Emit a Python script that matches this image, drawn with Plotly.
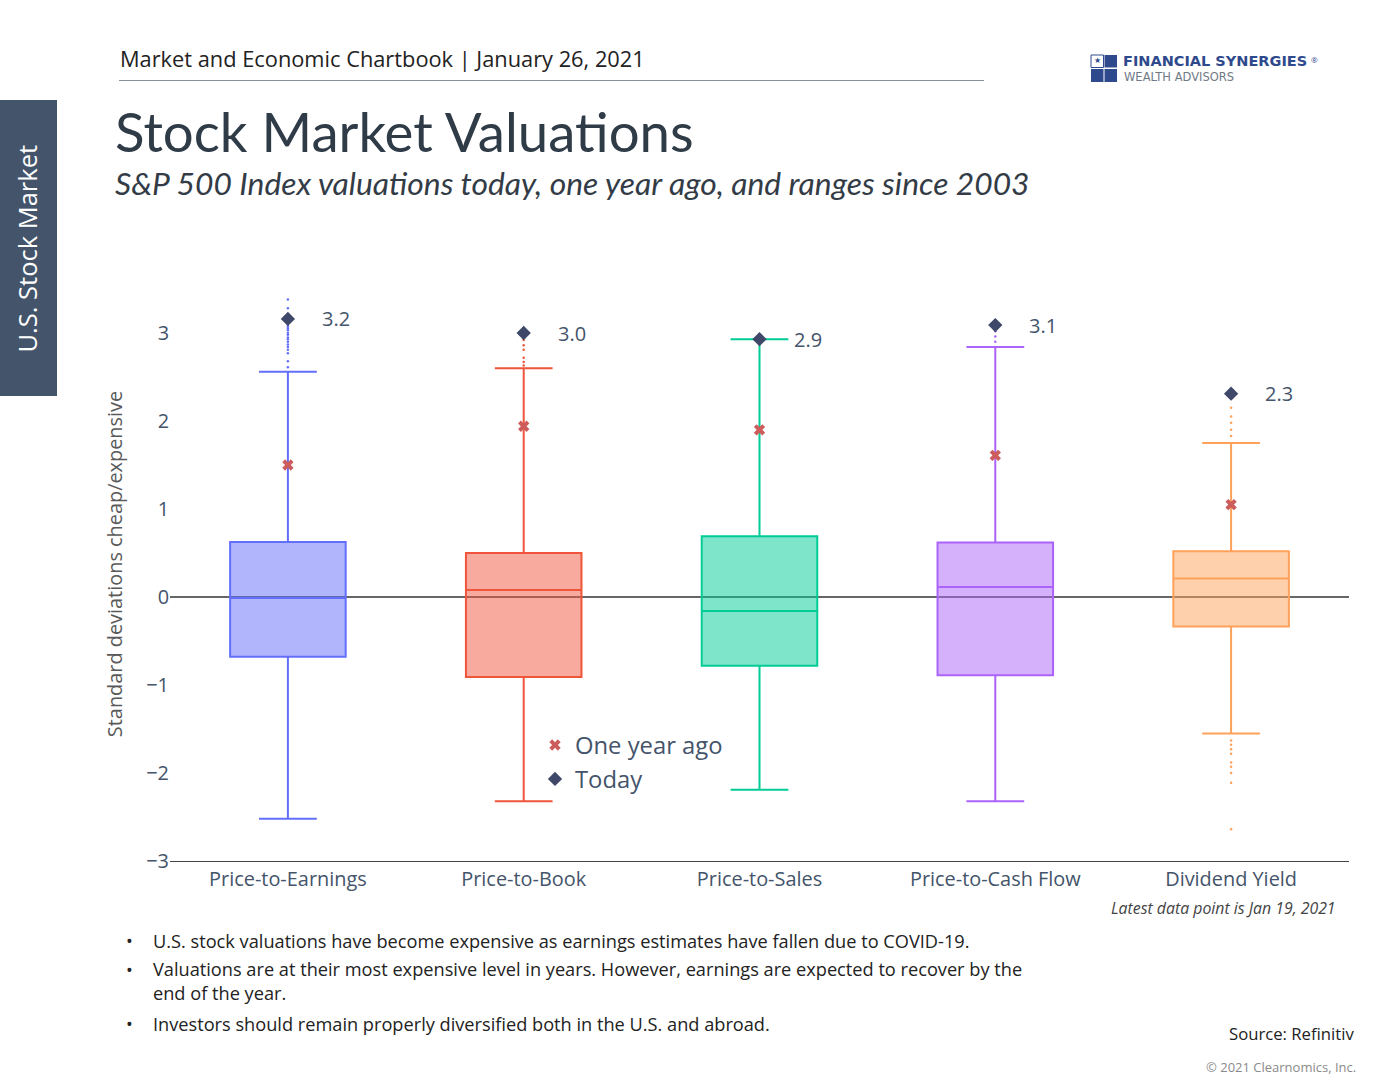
import plotly.graph_objects as go

categories = ['Price-to-Earnings', 'Price-to-Book', 'Price-to-Sales', 'Price-to-Cash Flow', 'Dividend Yield']
lower_fence = [-2.52, -2.32, -2.19, -2.32, -1.55]
q1 = [-0.68, -0.91, -0.78, -0.89, -0.335]
median = [-0.01, 0.08, -0.16, 0.115, 0.21]
q3 = [0.625, 0.50, 0.69, 0.62, 0.52]
upper_fence = [2.56, 2.60, 2.93, 2.84, 1.75]
outliers = [
    [3.38, 3.28, 3.09, 3.07, 3.05, 3.03, 3.0, 2.98, 2.95, 2.93, 2.9, 2.87, 2.84, 2.81, 2.77, 2.68, 2.61],
    [2.92, 2.86, 2.81, 2.72, 2.67, 2.63],
    [],
    [3.02, 2.96, 2.9],
    [2.25, 2.15, 2.05, 1.98, 1.9, 1.83, -1.63, -1.68, -1.73, -1.78, -1.88, -1.93, -2.0, -2.11, -2.64],
]
one_year_ago = [1.5, 1.94, 1.90, 1.61, 1.05]
today = [3.16, 3.0, 2.93, 3.09, 2.31]
box_colors = ['#636EFA', '#EF553B', '#00CC96', '#AB63FA', '#FFA15A']

bullets = [
    'U.S. stock valuations have become expensive as earnings estimates have fallen due to COVID-19.',
    'Valuations are at their most expensive level in years. However, earnings are expected to recover by the<br>end of the year.',
    'Investors should remain properly diversified both in the U.S. and abroad.',
]

W, H = 1400, 1091
L, R, T, B = 170, 1349, 267, 861


# page pixels to paper coordinates, for everything around the plot
def px(x):
    return (x - L) / (R - L)


def py(y):
    return (B - y) / (B - T)


def note(x, y, text, size, color='#333333', anchor='left', family='Open Sans', **kw):
    fig.add_annotation(x=px(x), y=py(y), xref='paper', yref='paper', text=text, showarrow=False,
                       xanchor=anchor, yanchor='middle', align='left',
                       font=dict(family=family, size=size, color=color), **kw)


def rect(x0, y0, x1, y1, fill, line=None):
    fig.add_shape(type='rect', xref='paper', yref='paper', x0=px(x0), x1=px(x1), y0=py(y0), y1=py(y1),
                  fillcolor=fill, line=dict(width=1 if line else 0, color=line or fill), layer='above')


fig = go.Figure()

for i, cat in enumerate(categories):
    fig.add_trace(go.Box(
        x=[cat], y=[outliers[i]] if outliers[i] else None,
        q1=[q1[i]], median=[median[i]], q3=[q3[i]],
        lowerfence=[lower_fence[i]], upperfence=[upper_fence[i]],
        name=cat, width=0.49, boxpoints='outliers' if outliers[i] else False, pointpos=0, jitter=0,
        line=dict(color=box_colors[i], width=2), marker=dict(color=box_colors[i], size=2.5),
        showlegend=False, hoverinfo='skip',
    ))

fig.add_trace(go.Scatter(x=categories, y=one_year_ago, mode='markers', name='One year ago',
                         marker=dict(symbol='x', size=10, color='#CD5C5C')))
fig.add_trace(go.Scatter(x=categories, y=today, mode='markers', name='Today',
                         marker=dict(symbol='diamond', size=11, color='#3F4868')))

for cat, val in zip(categories, today):
    fig.add_annotation(x=cat, y=val, text='%.1f' % val, showarrow=False, xshift=48,
                       font=dict(family='Open Sans', size=20, color='#44546A'))

fig.update_layout(
    width=W, height=H,
    margin=dict(l=L, r=W - R, t=T, b=H - B),
    paper_bgcolor='white', plot_bgcolor='white',
    font=dict(family='Open Sans', color='#2A3F5F'),
    showlegend=True,
    legend=dict(x=px(535), y=py(723), xanchor='left', yanchor='top', bgcolor='rgba(0,0,0,0)',
                font=dict(size=23.8, color='#44546A'), tracegroupgap=0),
    xaxis=dict(range=[-0.5, 4.5], type='category', showline=True, linecolor='#444444', linewidth=1,
               showgrid=False, ticks='', tickfont=dict(size=19.9, color='#44546A')),
    yaxis=dict(range=[-3, 3.75], showgrid=False, zeroline=True, zerolinecolor='#666666', zerolinewidth=1.5,
               tickvals=[-3, -2, -1, 0, 1, 2, 3], ticks='', tickfont=dict(size=19.9, color='#44546A'),
               title=dict(text='Standard deviations cheap/expensive', standoff=18,
                          font=dict(size=19.9, color='#595959'))),
)

# header
note(117.5, 58, 'Market and Economic Chartbook | January 26, 2021', 21.8, '#222222')
fig.add_shape(type='line', xref='paper', yref='paper', x0=px(119), x1=px(984), y0=py(80.5), y1=py(80.5),
              line=dict(color='#8A929C', width=1))
note(113, 131.5, 'Stock Market Valuations', 54.6, '#2F3B47', family='Lato')
note(113, 183, '<i>S&amp;P 500 Index valuations today, one year ago, and ranges since 2003</i>', 31.8, '#333C46', family='Lato')

# side tab
rect(0, 100, 57, 396, '#44546A')
note(26, 248.5, 'U.S. Stock Market', 25.5, 'white', anchor='center', textangle=-90)

# logo
rect(1091, 55, 1103.5, 67.5, 'white', '#2F4A8C')
rect(1104.5, 55, 1117, 67.5, '#2F4A8C')
rect(1091, 69, 1103.5, 82, '#2F4A8C')
rect(1104.5, 69, 1117, 82, '#2F4A8C')
note(1097, 61, '★', 8, '#2F4A8C', anchor='center', family='DejaVu Sans')
note(1121, 61.5, '<b>FINANCIAL SYNERGIES</b>', 14.5, '#2F4A8C', family='DejaVu Sans')
note(1309, 59, '®', 8, '#2F4A8C')
note(1122, 77, 'WEALTH ADVISORS', 11.5, '#707A86', family='DejaVu Sans')

# footer
note(1338, 907.5, '<i>Latest data point is Jan 19, 2021</i>', 15.85, '#444444', anchor='right')
bullet_y = [940.5, 981, 1023.5]
for y, mark_y, text in zip(bullet_y, [940.5, 970, 1023.5], bullets):
    note(151, y, text, 18.2, '#222222')
    note(124, mark_y, '•', 18, '#222222')
note(1356, 1033.5, 'Source: Refinitiv', 16.7, '#222222', anchor='right')
note(1358, 1067, '© 2021 Clearnomics, Inc.', 13, '#8A8A8A', anchor='right')

fig.write_html('out.html', post_script="document.body.style.margin='0';", config=dict(displayModeBar=False))
